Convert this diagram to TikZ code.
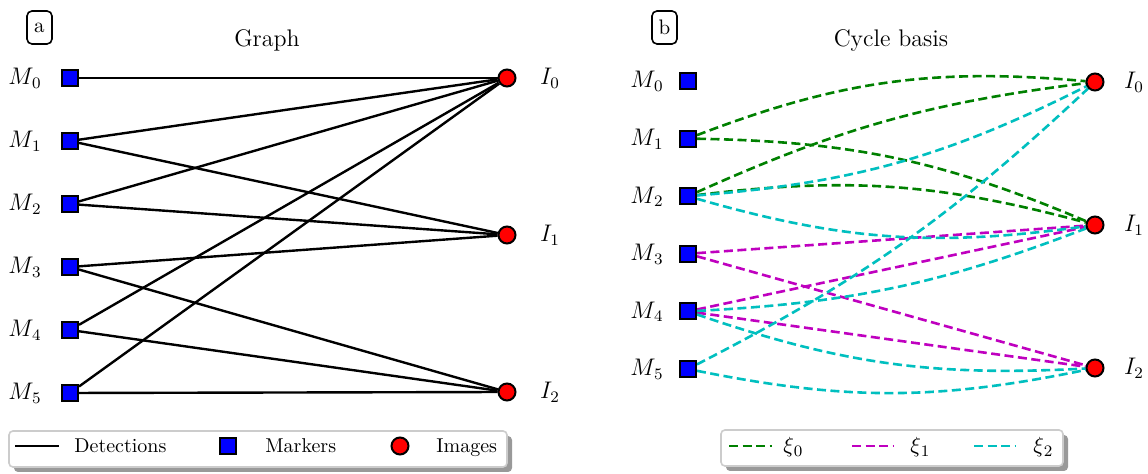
\documentclass[tikz,border=0pt]{standalone}
\usepackage{charter}
\definecolor{mgreen}{rgb}{0,0.5,0}
\definecolor{mmag}{rgb}{0.75,0,0.75}
\definecolor{mcyan}{rgb}{0,0.75,0.75}
\definecolor{framegray}{gray}{0.8}
\definecolor{shadowgray}{gray}{0.6}
\pgfdeclarelayer{edges}
\pgfsetlayers{edges,main}
\tikzset{
  marker/.style={draw=black, line width=1pt, fill=blue, minimum size=8pt, inner sep=0pt},
  imagept/.style={circle, draw=black, line width=1pt, fill=red, minimum size=8.5pt, inner sep=0pt},
  detect/.style={line width=1.2pt, black},
  cyc/.style={line width=1.3pt, dash pattern=on 4.5pt off 2.25pt},
  lbl/.style={font=\fontsize{12}{14}\selectfont, inner sep=0pt},
  leglbl/.style={font=\fontsize{10}{12}\selectfont, inner sep=0pt},
  legmath/.style={font=\fontsize{11}{13}\selectfont, inner sep=0pt},
  tag/.style={draw, rounded corners=2.5pt, line width=0.8pt, minimum width=12.5pt,
              minimum height=16.5pt, inner sep=0pt, font=\fontsize{10.5}{12}\selectfont},
  legendbox/.style={draw=framegray, fill=white, line width=0.8pt, rounded corners=2pt},
  shadowbox/.style={fill=shadowgray, rounded corners=2pt},
}
\begin{document}
\begin{tikzpicture}[x=0.5pt,y=-0.5pt]
\useasboundingbox (0,0) rectangle (1148,474);

% ---------- panel a: detection graph ----------
\node[tag] (taga) at (39.5,27.5) {a};
\node[lbl, anchor=base] (titlea) at (267,47) {Graph};
\foreach \i/\y in {0/78,1/141,2/204,3/267,4/330,5/393} {
  \node[marker] (a\i) at (70,\y) {};
  \node[lbl, anchor=base] (am\i) at (25,\y+7) {$M_{\mkern1mu\i}$};
}
\foreach \i/\y in {0/78,1/235,2/392} {
  \node[imagept] (ai\i) at (507,\y) {};
  \node[lbl, anchor=base] (ail\i) at (550,\y+7) {$I_{\i}$};
}
\begin{pgfonlayer}{edges}
  \foreach \m/\im in {0/0,1/0,1/1,2/0,2/1,3/1,3/2,4/0,4/2,5/0,5/2}
    \draw[detect] (a\m) -- (ai\im);
\end{pgfonlayer}

% legend a
\fill[shadowbox] (14,436) rectangle (512,472);
\draw[legendbox] (9,431) rectangle (507,467);
\coordinate (la1) at (15,446);
\coordinate (la2) at (59,446);
\draw[detect] (la1) -- (la2);
\node[leglbl, anchor=base west] (lda) at (74,453) {Detections};
\node[marker] (lma) at (228,446) {};
\node[leglbl, anchor=base west] (lmk) at (265,453) {Markers};
\node[imagept] (lia) at (400,446) {};
\node[leglbl, anchor=base west] (lim) at (436,453) {Images};

% ---------- panel b: cycle basis ----------
\node[tag] (tagb) at (664.5,27.5) {b};
\node[lbl, anchor=base] (titleb) at (891,47) {Cycle basis};
\foreach \i/\y in {0/81,1/138.6,2/196.2,3/253.8,4/311.4,5/369} {
  \node[marker] (b\i) at (688,\y) {};
  \node[lbl, anchor=base] (bm\i) at (647,\y+7) {$M_{\mkern1mu\i}$};
}
\foreach \i/\y in {0/82,1/225,2/368} {
  \node[imagept] (bi\i) at (1095,\y) {};
  \node[lbl, anchor=base] (bil\i) at (1134,\y+7) {$I_{\i}$};
}
\begin{pgfonlayer}{edges}
  % xi_0
  \draw[cyc, mgreen] (b1) to[bend left=13] (bi0);
  \draw[cyc, mgreen] (b1) to[bend left=11] (bi1);
  \draw[cyc, mgreen] (b2) to[bend left=8.5] (bi0);
  \draw[cyc, mgreen] (b2) to[bend left=11] (bi1);
  % xi_1
  \draw[cyc, mmag] (b3) -- (bi1);
  \draw[cyc, mmag] (b3) -- (bi2);
  \draw[cyc, mmag] (b4) -- (bi1);
  \draw[cyc, mmag] (b4) -- (bi2);
  % xi_2
  \draw[cyc, mcyan] (b2) to[bend right=11] (bi0);
  \draw[cyc, mcyan] (b2) to[bend right=12] (bi1);
  \draw[cyc, mcyan] (b5) to[bend right=8] (bi0);
  \draw[cyc, mcyan] (b4) to[bend right=9] (bi1);
  \draw[cyc, mcyan] (b4) to[bend right=11] (bi2);
  \draw[cyc, mcyan] (b5) to[bend right=11.5] (bi2);
\end{pgfonlayer}

% legend b
\fill[shadowbox] (726,435) rectangle (1068,471);
\draw[legendbox] (721,430) rectangle (1063,466);
\coordinate (lg1) at (729,446);
\coordinate (lg2) at (772,446);
\draw[cyc, mgreen] (lg1) -- (lg2);
\node[legmath, anchor=base west] (lx0) at (783,453) {$\xi_{\mkern1mu 0}$};
\coordinate (lm1) at (852,446);
\coordinate (lm2) at (893,446);
\draw[cyc, mmag] (lm1) -- (lm2);
\node[legmath, anchor=base west] (lx1) at (910,453) {$\xi_{\mkern1mu 1}$};
\coordinate (lc1) at (974,446);
\coordinate (lc2) at (1015,446);
\draw[cyc, mcyan] (lc1) -- (lc2);
\node[legmath, anchor=base west] (lx2) at (1033,453) {$\xi_{\mkern1mu 2}$};
\end{tikzpicture}
\end{document}
